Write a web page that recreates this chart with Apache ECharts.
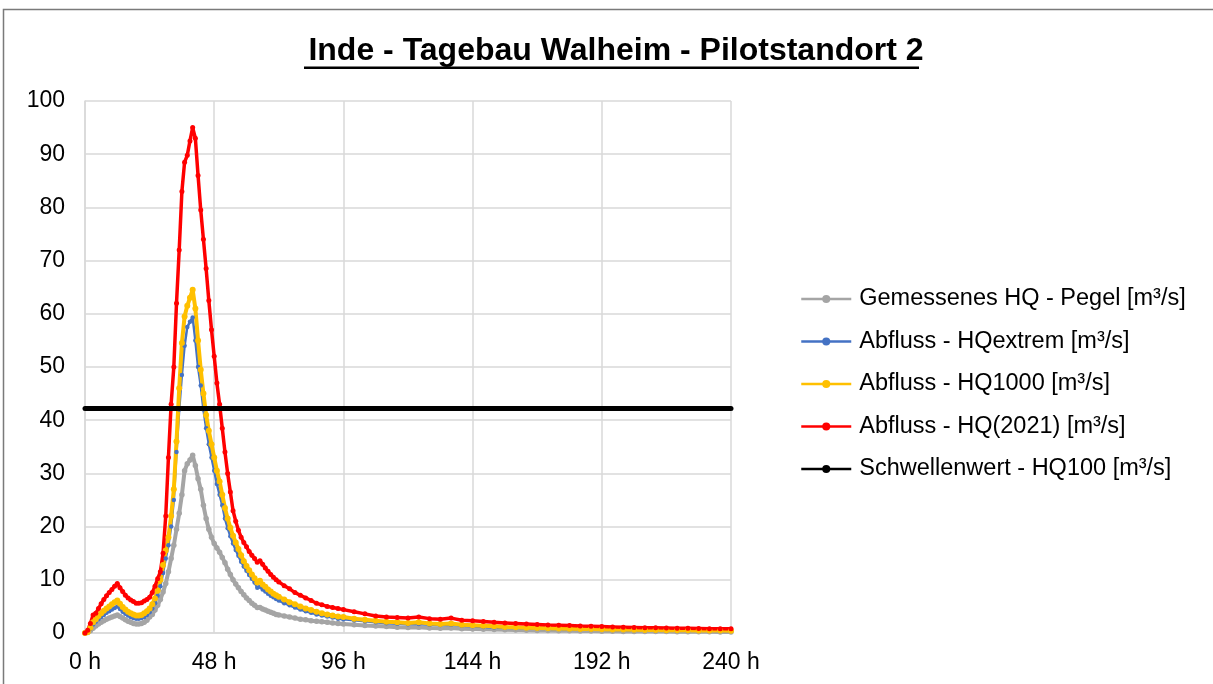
<!DOCTYPE html>
<html>
<head>
<meta charset="utf-8">
<title>Inde - Tagebau Walheim - Pilotstandort 2</title>
<script src="https://cdn.jsdelivr.net/npm/echarts@6/dist/echarts.min.js"></script>
<style>
  html, body { margin: 0; padding: 0; background: #fff; }
  #chart { width: 1213px; height: 684px; }
</style>
</head>
<body>
<div id="chart"></div>
<script>
// time axis in hours (hourly up to 72 h, then coarser)
const hours = [
  0, 1, 2, 3, 4, 5, 6, 7, 8, 9, 10, 11, 12, 13, 14, 15, 16, 17, 18, 19, 20, 21, 22, 23, 24,
  25, 26, 27, 28, 29, 30, 31, 32, 33, 34, 35, 36, 37, 38, 39, 40, 41, 42, 43, 44, 45, 46, 47, 48,
  49, 50, 51, 52, 53, 54, 55, 56, 57, 58, 59, 60, 61, 62, 63, 64, 65, 66, 67, 68, 69, 70, 71, 72,
  74, 76, 78, 80, 82, 84, 86, 88, 90, 92, 94, 96,
  100, 104, 108, 112, 116, 120, 124, 128, 132, 136,
  140, 144, 148, 152, 156, 160, 164, 168, 172, 176,
  180, 184, 188, 192, 196, 200, 204, 208, 212, 216,
  220, 224, 228, 232, 236, 240
];

const pegel = [
  0, 0.1, 0.4, 0.9, 1.3, 1.7, 2.0, 2.3, 2.6, 2.8, 3.0, 3.2, 3.4, 3.1, 2.8, 2.5, 2.2, 2.0, 1.8, 1.7, 1.7, 1.8, 2.0, 2.4, 3.0,
  3.5, 4.3, 5.2, 6.3, 7.7, 9.3, 11.5, 14, 16.5, 19.5, 22.5, 26, 30.5, 31.8, 32.5, 33.4, 31.5, 29, 27, 24, 21.5, 19.5, 18, 16.8,
  16, 15.2, 14.2, 13.2, 12, 11, 10, 9.2, 8.5, 7.8, 7.2, 6.6, 6.1, 5.6, 5.2, 4.8, 4.8, 4.5, 4.3, 4.1, 3.9, 3.7, 3.5, 3.4,
  3.2, 3.0, 2.8, 2.6, 2.5, 2.3, 2.2, 2.1, 2.0, 1.9, 1.8, 1.7,
  1.55, 1.4, 1.3, 1.2, 1.1, 1.05, 1.1, 0.95, 0.9, 0.95,
  0.8, 0.75, 0.7, 0.65, 0.6, 0.56, 0.52, 0.49, 0.46, 0.43,
  0.4, 0.38, 0.36, 0.34, 0.32, 0.3, 0.29, 0.28, 0.27, 0.26,
  0.25, 0.24, 0.23, 0.22, 0.21, 0.2
];

const hqExtrem = [
  0, 0.2, 0.8, 1.6, 2.1, 2.6, 3.0, 3.4, 3.8, 4.1, 4.4, 4.7, 5.0, 4.5, 4.0, 3.6, 3.3, 3.0, 2.8, 2.7, 2.7, 2.8, 3.0, 3.4, 3.9,
  4.6, 5.6, 7.0, 8.8, 11.3, 14, 16.5, 20, 25, 34, 42, 48.5, 54, 57.5, 58.5, 59.3, 55, 50, 46.5, 42, 38.5, 35.5, 33, 30.5,
  28, 26, 24, 21.5, 19.7, 18.2, 16.8, 15.6, 14.5, 13.4, 12.5, 11.7, 10.9, 10.2, 9.5, 8.5, 8.7, 8.2, 7.8, 7.4, 7.0, 6.7, 6.4, 6.1,
  5.6, 5.2, 4.8, 4.4, 4.1, 3.8, 3.5, 3.3, 3.1, 2.9, 2.7, 2.6,
  2.4, 2.2, 2.0, 1.85, 1.75, 1.65, 1.7, 1.55, 1.5, 1.55,
  1.35, 1.25, 1.15, 1.05, 1.0, 0.93, 0.87, 0.82, 0.77, 0.73,
  0.69, 0.66, 0.63, 0.6, 0.57, 0.55, 0.52, 0.5, 0.48, 0.46,
  0.44, 0.42, 0.41, 0.4, 0.38, 0.37
];

const hq1000 = [
  0, 0.2, 1.0, 2.0, 2.6, 3.2, 3.7, 4.2, 4.6, 5.0, 5.4, 5.8, 6.1, 5.5, 4.9, 4.4, 4.0, 3.7, 3.5, 3.3, 3.3, 3.4, 3.7, 4.1, 4.6,
  5.4, 6.5, 8.0, 10.0, 12.8, 15.5, 18, 22, 27, 36, 46, 54.5, 59.5, 61.5, 63, 64.5, 61, 55, 49.5, 45, 41, 38, 35.5, 33,
  30.5, 28.5, 26, 23.5, 21.5, 19.8, 18.3, 17, 15.8, 14.6, 13.5, 12.6, 11.8, 11.0, 10.3, 9.5, 9.8, 9.1, 8.7, 8.2, 7.8, 7.4, 7.1, 6.8,
  6.3, 5.8, 5.4, 5.0, 4.6, 4.3, 4.0, 3.7, 3.5, 3.3, 3.1, 3.0,
  2.7, 2.5, 2.3, 2.1, 2.0, 1.9, 2.0, 1.8, 1.7, 1.8,
  1.55, 1.45, 1.35, 1.25, 1.15, 1.1, 1.0, 0.95, 0.9, 0.85,
  0.8, 0.77, 0.74, 0.7, 0.67, 0.64, 0.61, 0.58, 0.56, 0.54,
  0.52, 0.5, 0.48, 0.46, 0.45, 0.44
];

const hq2021 = [
  0, 0.5, 1.8, 3.4, 3.7, 4.6, 5.5, 6.3, 7.0, 7.6, 8.2, 8.8, 9.3, 8.5, 7.8, 7.1, 6.6, 6.2, 5.9, 5.6, 5.6, 5.7, 6.0, 6.3, 6.7,
  7.6, 8.8, 10.2, 11.5, 15, 22, 33, 43, 50, 62, 72, 83, 88.5, 89.8, 92.5, 95, 93, 86, 79.5, 74, 68.5, 62.5, 57, 52,
  47, 43, 38.5, 34, 30, 26.5, 23, 21, 19.3, 18, 17, 16.2, 15.3, 14.6, 14.0, 13.3, 13.6, 12.9, 12.2, 11.6, 11.0, 10.5, 10.0, 9.6,
  8.9, 8.3, 7.6, 7.1, 6.6, 6.1, 5.6, 5.3, 5.0, 4.8, 4.6, 4.4,
  4.0, 3.6, 3.2, 3.0, 2.9, 2.8, 3.0, 2.7, 2.6, 2.8,
  2.4, 2.3, 2.15, 2.0, 1.9, 1.8, 1.7, 1.6, 1.5, 1.45,
  1.4, 1.3, 1.25, 1.2, 1.15, 1.1, 1.05, 1.0, 0.97, 0.94,
  0.9, 0.88, 0.85, 0.82, 0.8, 0.78
];

const schwellenwert = 42.2;

const xTicks = [0, 48, 96, 144, 192, 240];

const seriesNames = [
  'Gemessenes HQ - Pegel [m³/s]',
  'Abfluss - HQextrem [m³/s]',
  'Abfluss - HQ1000 [m³/s]',
  'Abfluss - HQ(2021) [m³/s]',
  'Schwellenwert - HQ100 [m³/s]'
];

const FONT = '"Liberation Sans", Arial, sans-serif';

function pairs(values) {
  return hours.map((h, i) => [h, values[i]]);
}

function lineSeries(name, values, color, width, dot) {
  return {
    name: name,
    type: 'line',
    data: pairs(values),
    symbol: 'circle',
    symbolSize: dot,
    showSymbol: true,
    lineStyle: { color: color, width: width },
    itemStyle: { color: color },
    emphasis: { disabled: true }
  };
}

const chart = echarts.init(document.getElementById('chart'), null, { renderer: 'canvas' });

const options = {
  animation: false,
  backgroundColor: '#fff',
  title: {
    text: 'Inde - Tagebau Walheim - Pilotstandort 2',
    left: 611,
    textAlign: 'center',
    top: 30,
    textStyle: { fontFamily: FONT, fontSize: 32, fontWeight: 'bold', color: '#000' }
  },
  graphic: [
    {
      type: 'rect',
      shape: { x: 3.5, y: 9.5, width: 1300, height: 800 },
      style: { fill: 'none', stroke: '#7a7a7a', lineWidth: 1.5 },
      silent: true
    },
    {
      type: 'rect',
      shape: { x: 304, y: 66.5, width: 615, height: 2.5 },
      style: { fill: '#000' },
      silent: true
    }
  ],
  legend: {
    orient: 'vertical',
    left: 800,
    top: 287,
    padding: 0,
    itemWidth: 50,
    itemHeight: 10,
    itemGap: 18.5,
    data: seriesNames,
    lineStyle: { width: 2.5 },
    textStyle: { fontFamily: FONT, fontSize: 23.5, color: '#000', lineHeight: 24, padding: [0, 0, 0, 3] }
  },
  grid: { left: 85, right: 482, top: 101, bottom: 51 },
  xAxis: {
    type: 'value',
    min: xTicks[0],
    max: xTicks[xTicks.length - 1],
    interval: 48,
    axisLine: { show: true, lineStyle: { color: '#d9d9d9', width: 1.5 } },
    axisTick: { show: false },
    splitLine: { show: true, lineStyle: { color: '#d9d9d9', width: 1.5 } },
    axisLabel: {
      margin: 18,
      formatter: '{value} h',
      fontFamily: FONT, fontSize: 23, color: '#000'
    }
  },
  yAxis: {
    type: 'value',
    min: 0,
    max: 100,
    interval: 10,
    axisLine: { show: true, lineStyle: { color: '#d9d9d9', width: 1.5 } },
    axisTick: { show: false },
    splitLine: { show: true, lineStyle: { color: '#d9d9d9', width: 1.5 } },
    axisLabel: { margin: 20, fontFamily: FONT, fontSize: 23, color: '#000' }
  },
  series: [
    lineSeries(seriesNames[0], pegel, '#a5a5a5', 4, 5.5),
    lineSeries(seriesNames[1], hqExtrem, '#4472c4', 2.5, 4.5),
    lineSeries(seriesNames[2], hq1000, '#ffc000', 4, 6),
    lineSeries(seriesNames[3], hq2021, '#ff0000', 3.5, 5),
    lineSeries(seriesNames[4], hours.map(() => schwellenwert), '#000000', 5, 5)
  ]
};

chart.setOption(options);
</script>
</body>
</html>
